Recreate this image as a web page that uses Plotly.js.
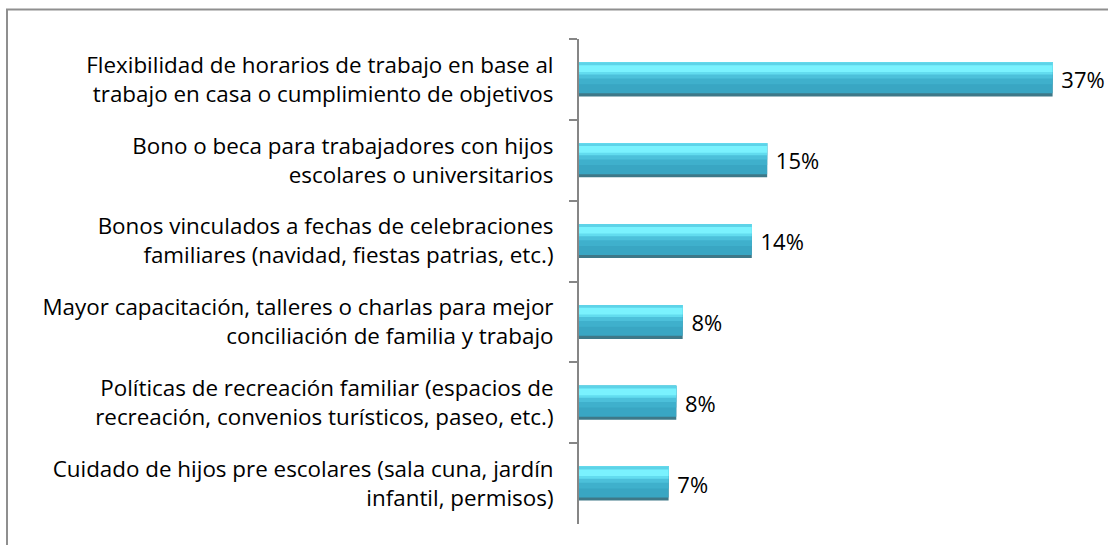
<!DOCTYPE html>
<html>
<head>
<meta charset="utf-8">
<script src="https://cdn.plot.ly/plotly-3.0.1.min.js"></script>
<style>
  html, body { margin: 0; padding: 0; background: #ffffff; }
  #chart { width: 1108px; height: 545px; }
</style>
</head>
<body>
<div id="chart"></div>
<script>
// ---- data ----
const categories = [
  "Flexibilidad de horarios de trabajo en base al<br>trabajo en casa o cumplimiento de objetivos",
  "Bono o beca para trabajadores con hijos<br>escolares o universitarios",
  "Bonos vinculados a fechas de celebraciones<br>familiares (navidad, fiestas patrias, etc.)",
  "Mayor capacitación, talleres o charlas para mejor<br>conciliación de familia y trabajo",
  "Políticas de recreación familiar (espacios de<br>recreación, convenios turísticos, paseo, etc.)",
  "Cuidado de hijos pre escolares (sala cuna, jardín<br>infantil, permisos)"
];
const values = [37.0, 14.7, 13.5, 8.1, 7.6, 7.0];
const valueLabels = ["37%", "15%", "14%", "8%", "8%", "7%"];

// ---- styling ----
const FONT = "'Open Sans', sans-serif";
const FS = 22.4;
const BAR_W = 0.421;
const TOP = -BAR_W / 2;
// layered bands to imitate the bevelled gradient bar
const bands = [
  { w: BAR_W, color: "#3e7888" },          // dark bottom shadow
  { w: 0.383, color: "#39a6c3" },          // body
  { w: 0.270, color: "#3fb0cc" },
  { w: 0.200, color: "#4cc0da" },
  { w: 0.150, color: "#62dcef" },
  { w: 0.118, color: "#7af2fe" },          // bright highlight
  { w: 0.035, color: "#5ed3e8" }           // top edge
];

const traces = bands.map((b, i) => ({
  type: "bar",
  orientation: "h",
  y: categories,
  x: values,
  offset: TOP,
  width: b.w,
  marker: { color: b.color, line: { width: 0 } },
  hoverinfo: "skip",
  showlegend: false,
  cliponaxis: false,
  text: i === 0 ? valueLabels : undefined,
  texttemplate: i === 0 ? "\u00a0%{text}" : undefined,
  textposition: i === 0 ? "outside" : "none",
  textfont: { family: FONT, size: 22, color: "#000000" }
}));

const layout = {
  width: 1108,
  height: 545,
  margin: { l: 579, r: 17, t: 39, b: 21 },
  paper_bgcolor: "#ffffff",
  plot_bgcolor: "#ffffff",
  barmode: "overlay",
  showlegend: false,
  font: { family: FONT, size: FS, color: "#000000" },
  xaxis: {
    range: [0, 40],
    visible: false,
    showgrid: false,
    zeroline: false,
    fixedrange: true
  },
  yaxis: {
    type: "category",
    categoryorder: "array",
    categoryarray: categories,
    autorange: "reversed",
    showline: true,
    linecolor: "#868686",
    linewidth: 2,
    ticks: "outside",
    tickson: "boundaries",
    ticklen: 8,
    tickwidth: 2,
    tickcolor: "#868686",
    ticklabelstandoff: 19,
    showgrid: false,
    zeroline: false,
    tickfont: { family: FONT, size: FS, color: "#000000" },
    fixedrange: true
  },
  shapes: [{
    type: "rect",
    xref: "paper", yref: "paper",
    x0: (7 - 579) / 512, x1: 2,
    y0: -1, y1: 1 + (39 - 9.5) / 485,
    line: { color: "#8f8f8f", width: 2 },
    fillcolor: "rgba(0,0,0,0)",
    layer: "below"
  }]
};

Plotly.newPlot("chart", traces, layout, { displayModeBar: false, staticPlot: true });
</script>
</body>
</html>
